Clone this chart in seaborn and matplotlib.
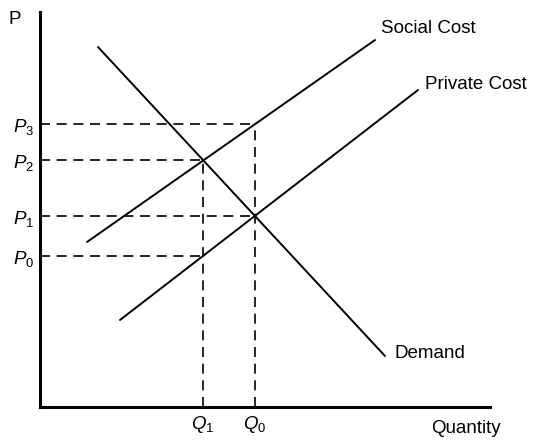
import matplotlib
matplotlib.use("Agg")
import matplotlib.pyplot as plt
import seaborn as sns
import pandas as pd

sns.set_theme(style="white")
plt.rcParams['font.family'] = ['Liberation Sans', 'DejaVu Sans']
plt.rcParams['mathtext.fontset'] = 'custom'
plt.rcParams['mathtext.it'] = 'Liberation Sans:italic'
plt.rcParams['mathtext.rm'] = 'Liberation Sans'

# Data (chart units)
social_q = [47, 335]
social_p = [165, 367]
private_q = [80, 378]
private_p = [87, 317]
demand_q = [58, 345]
demand_p = [360, 51]

price_levels = [151, 191, 247, 283]        # P0, P1, P2, P3
price_labels = ["$P_0$", "$P_1$", "$P_2$", "$P_3$"]
price_ends = [163, 215, 163, 215]          # where each dashed price line stops
qty_levels = [163, 215]                    # Q1, Q0
qty_labels = ["$Q_1$", "$Q_0$"]
qty_tops = [247, 283]

fig = plt.figure(figsize=(5.43, 4.40), dpi=100)
ax = fig.add_axes([40/543, 33/440, 450/543, 395/440])

for q, p in [(social_q, social_p), (private_q, private_p), (demand_q, demand_p)]:
    sns.lineplot(x=q, y=p, ax=ax, color="black", linewidth=1.4, sort=False)

for y, xe in zip(price_levels, price_ends):
    sns.lineplot(x=[0, xe], y=[y, y], ax=ax, color="black", linewidth=1.2,
                 linestyle=(0, (6, 4)))
for x, yt in zip(qty_levels, qty_tops):
    ax.plot([x, x], [0, yt], color="black", linewidth=1.2, linestyle=(0, (6, 4)))

ax.set_xlim(0, 450)
ax.set_ylim(0, 395)
for s in ["top", "right"]:
    ax.spines[s].set_visible(False)
for s in ["left", "bottom"]:
    ax.spines[s].set_linewidth(2.2)
    ax.spines[s].set_color("black")

fs = 13.5
ax.set_yticks(price_levels, price_labels, fontsize=fs)
ax.set_xticks(qty_levels, qty_labels, fontsize=fs)
ax.tick_params(axis="both", length=0, pad=5, colors="black")
ax.tick_params(axis="y", pad=4)

ax.text(-25, 388, "P", fontsize=fs, ha="center", va="center", color="black")
ax.text(461, -21, "Quantity", fontsize=fs, ha="right", va="center", color="black")
ax.text(341, 379, "Social Cost", fontsize=fs, ha="left", va="center", color="black")
ax.text(385, 323, "Private Cost", fontsize=fs, ha="left", va="center", color="black")
ax.text(355, 54, "Demand", fontsize=fs, ha="left", va="center", color="black")

fig.savefig("out.png", dpi=100)
